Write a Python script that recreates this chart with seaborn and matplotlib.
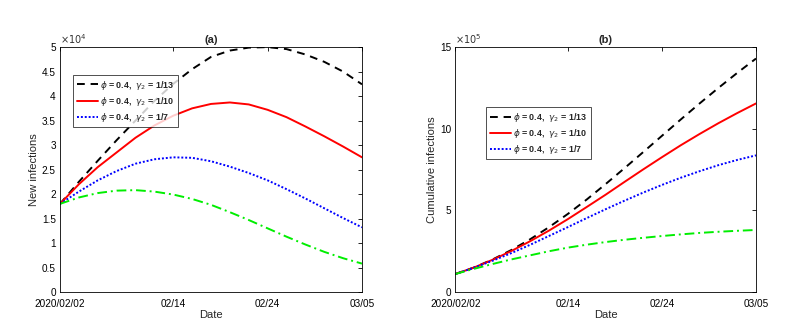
import pandas as pd
import matplotlib.pyplot as plt
import seaborn as sns

# days 2020/02/02 .. 2020/03/05 every 2 days
dates = pd.date_range('2020-02-02', periods=17, freq='2D')

# new infections (x10^4)
new_13 = [1.8, 2.25, 2.68, 3.1, 3.5, 3.9, 4.25, 4.55, 4.8, 4.93, 4.99, 5.0, 4.96, 4.85, 4.7, 4.5, 4.24]
new_10 = [1.8, 2.2, 2.55, 2.85, 3.15, 3.4, 3.6, 3.75, 3.84, 3.87, 3.83, 3.72, 3.57, 3.38, 3.18, 2.97, 2.75]
new_7 = [1.8, 2.05, 2.28, 2.47, 2.62, 2.71, 2.75, 2.74, 2.67, 2.56, 2.43, 2.28, 2.1, 1.91, 1.71, 1.51, 1.32]
new_g = [1.8, 1.93, 2.02, 2.07, 2.08, 2.05, 1.99, 1.9, 1.78, 1.63, 1.47, 1.3, 1.13, 0.97, 0.82, 0.69, 0.58]

# cumulative infections (x10^5)
cum_13 = [1.1, 1.5, 2.0, 2.58, 3.24, 3.98, 4.79, 5.67, 6.61, 7.58, 8.57, 9.57, 10.57, 11.55, 12.5, 13.42, 14.3]
cum_10 = [1.1, 1.5, 1.98, 2.52, 3.12, 3.77, 4.47, 5.21, 5.96, 6.74, 7.51, 8.26, 8.99, 9.68, 10.34, 10.96, 11.55]
cum_7 = [1.1, 1.49, 1.92, 2.39, 2.9, 3.44, 3.98, 4.53, 5.07, 5.59, 6.09, 6.56, 7.0, 7.4, 7.77, 8.09, 8.37]
cum_g = [1.1, 1.42, 1.72, 2.0, 2.25, 2.5, 2.72, 2.9, 3.06, 3.2, 3.32, 3.43, 3.53, 3.62, 3.69, 3.75, 3.8]

labels = [r'$\phi$ = 0.4,  $\gamma_2$ = 1/13', r'$\phi$ = 0.4,  $\gamma_2$ = 1/10', r'$\phi$ = 0.4,  $\gamma_2$ = 1/7']
tick_dates = pd.to_datetime(['2020-02-02', '2020-02-14', '2020-02-24', '2020-03-05'])
tick_labels = ['2020/02/02', '02/14', '02/24', '03/05']

sns.set_style('white')
plt.rcParams['font.family'] = ['Liberation Sans', 'DejaVu Sans']
plt.rcParams['mathtext.fontset'] = 'dejavusans'

fig = plt.figure(figsize=(8, 3.25), dpi=100)
ax1 = fig.add_axes([0.075, 0.1015, 0.3775, 0.7535])
ax2 = fig.add_axes([0.569, 0.1015, 0.376, 0.7535])

styles = [('black', (4, 3)), ('red', ''), ('blue', (1, 1)), ('#00ee00', (5, 2, 1, 2))]


def draw(ax, series, title, ylabel, ymax, yticks, power, legend_anchor):
    for i, (vals, (col, dash)) in enumerate(zip(series, styles)):
        sns.lineplot(x=dates, y=vals, ax=ax, color=col, lw=1.4,
                     label=labels[i] if i < 3 else None)
        if dash:
            ax.lines[-1].set_dashes(dash)
    ax.set_xlim(dates[0], dates[-1])
    ax.set_ylim(0, ymax)
    ax.set_xticks(tick_dates)
    ax.set_xticklabels(tick_labels)
    ax.set_yticks(yticks)
    ax.set_yticklabels(['%g' % t for t in yticks])
    ax.tick_params(direction='in', top=True, right=True, length=3, width=0.6,
                   labelsize=7.2, colors='black')
    ax.tick_params(axis='x', pad=5)
    ax.tick_params(axis='y', pad=3)
    for s in ax.spines.values():
        s.set_linewidth(0.6)
        s.set_color('black')
    ax.set_title(title, fontsize=8, fontweight='bold', pad=3)
    ax.set_xlabel('Date', fontsize=8, labelpad=1)
    ax.set_ylabel(ylabel, fontsize=8, labelpad=2)
    ax.text(0.0, 1.005, r'$\times10^{%d}$' % power, transform=ax.transAxes,
            fontsize=7, color='#333333', ha='left', va='bottom')
    leg = ax.legend(loc='upper left', bbox_to_anchor=legend_anchor, borderaxespad=0,
                    frameon=True, fancybox=False, handlelength=2.4, handletextpad=0.25,
                    borderpad=0.4, labelspacing=0.35, prop={'weight': 'bold', 'size': 6.4})
    leg.get_frame().set_edgecolor('black')
    leg.get_frame().set_linewidth(0.6)


draw(ax1, [new_13, new_10, new_7, new_g], '(a)', 'New infections', 5,
     [0, 0.5, 1, 1.5, 2, 2.5, 3, 3.5, 4, 4.5, 5], 4, (0.043, 0.886))
draw(ax2, [cum_13, cum_10, cum_7, cum_g], '(b)', 'Cumulative infections', 15,
     [0, 5, 10, 15], 5, (0.103, 0.755))

fig.savefig('out.png', dpi=100)
